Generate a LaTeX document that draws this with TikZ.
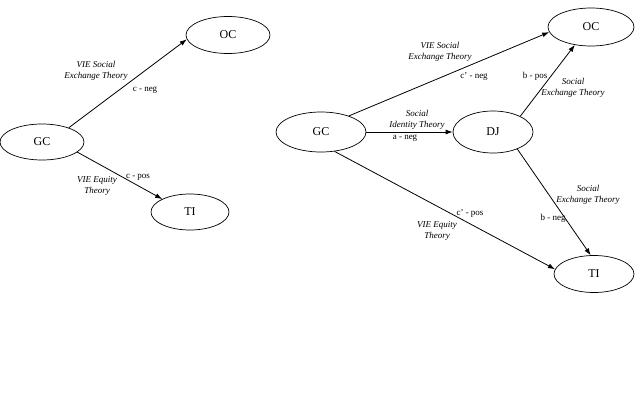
\documentclass[tikz,border=0pt]{standalone}
\usepackage{fontspec}
\setmainfont{Liberation Serif}
\usetikzlibrary{shapes.geometric,arrows.meta}
\tikzset{
  construct/.style={ellipse,draw,line width=0.7pt,font=\fontsize{12}{14}\selectfont,inner sep=0pt},
  link/.style={line width=0.8pt,-{Latex[length=7pt,width=5pt]}},
  theory/.style={font=\fontsize{9}{10.5}\selectfont\itshape,align=center,inner sep=0pt},
  coef/.style={font=\fontsize{9}{10.5}\selectfont,inner sep=0pt}
}
\begin{document}
\begin{tikzpicture}[x=1pt,y=-1pt]
\useasboundingbox (0,0) rectangle (638,402);
% left model
\node[construct,minimum width=84pt,minimum height=36pt] (gcL) at (42,142) {GC};
\node[construct,minimum width=84pt,minimum height=37pt] (ocL) at (228,35) {OC};
\node[construct,minimum width=78pt,minimum height=36pt] (tiL) at (190,212) {TI};
\draw[link] (gcL.28) -- (ocL.186);
\draw[link] (gcL.-16) -- (tiL.155);
\node[theory] (t1) at (96,71) {VIE Social\\Exchange Theory};
\node[coef] (k1) at (145,90) {c - neg};
\node[theory] (t2) at (97,186) {VIE Equity\\Theory};
\node[coef] (k2) at (138,177) {c - pos};
% right model
\node[construct,minimum width=90pt,minimum height=40pt] (gcR) at (321,132) {GC};
\node[construct,minimum width=80pt,minimum height=42pt] (dj) at (493,132) {DJ};
\node[construct,minimum width=86pt,minimum height=38pt] (ocR) at (591,27) {OC};
\node[construct,minimum width=80pt,minimum height=37pt] (tiR) at (594,274) {TI};
\draw[link] (gcR.30) -- (ocR.187);
\draw[link] (gcR.east) -- (dj.west);
\draw[link] (dj.30) -- (ocR.228);
\draw[link] (gcR.-55) -- (tiR.173);
\draw[link] (dj.-35) -- (tiR.100);
\node[theory] (t3) at (440,52) {VIE Social\\Exchange Theory};
\node[coef] (k3) at (474,76) {c' - neg};
\node[coef] (k4) at (535,76) {b - pos};
\node[theory] (t4) at (573,88) {Social\\Exchange Theory};
\node[theory] (t5) at (417,120) {Social\\Identity Theory};
\node[coef] (k5) at (405,138) {a - neg};
\node[theory] (t6) at (588,195) {Social\\Exchange Theory};
\node[coef] (k6) at (553,218) {b - neg};
\node[coef] (k7) at (470,213) {c' - pos};
\node[theory] (t7) at (437,231) {VIE Equity\\Theory};
\end{tikzpicture}
\end{document}
